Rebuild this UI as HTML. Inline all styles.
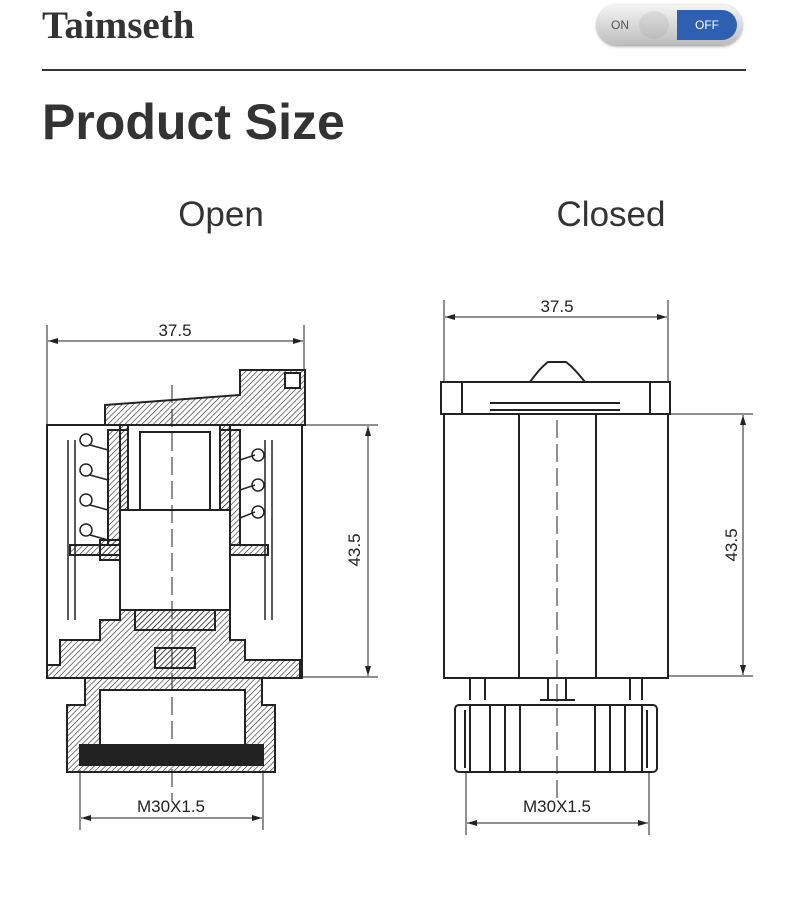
<!DOCTYPE html>
<html><head><meta charset="utf-8"><style>
body{margin:0;background:#fff;width:790px;height:913px;overflow:hidden;position:relative;font-family:"Liberation Sans",sans-serif}
.t{position:absolute;left:42px;top:3px;font-family:"Liberation Serif",serif;font-weight:bold;font-size:39px;color:#333}
.hr{position:absolute;left:42px;top:69px;width:704px;height:2px;background:#333}
.ps{position:absolute;left:42px;top:93px;font-weight:bold;font-size:50px;color:#333}
.sub{position:absolute;top:195px;font-size:35px;color:#333;width:200px;text-align:center}
.tog{position:absolute;left:597px;top:5px;width:145px;height:40px;border-radius:20px;background:linear-gradient(#f4f4f4,#bdbdbd);box-shadow:0 1px 3px #888}
.tog .on{position:absolute;left:14px;top:13px;font-size:12px;color:#555}
.tog .knob{position:absolute;left:42px;top:6px;width:30px;height:28px;border-radius:50%;background:linear-gradient(#ddd,#bbb)}
.tog .off{position:absolute;left:80px;top:5px;width:60px;height:30px;border-radius:0 15px 15px 0;background:#2f5fb0;color:#fff;font-size:12px;line-height:30px;text-align:center}
svg{position:absolute;left:0;top:0}
</style></head><body>
<div class="t">Taimseth</div>
<div class="tog"><span class="on">ON</span><div class="knob"></div><div class="off">OFF</div></div>
<div class="hr"></div>
<div class="ps">Product Size</div>
<div class="sub" style="left:121px">Open</div>
<div class="sub" style="left:511px">Closed</div>
<svg width="790" height="913" viewBox="0 0 790 913">
<defs>
<pattern id="h" width="4" height="4" patternUnits="userSpaceOnUse" patternTransform="rotate(45)"><line x1="0" y1="0" x2="0" y2="4" stroke="#222" stroke-width="1.2"/></pattern>
<marker id="a" markerWidth="10" markerHeight="6" refX="10" refY="3" orient="auto-start-reverse"><path d="M0,0L10,3L0,6z" fill="#222"/></marker>
</defs>
<g stroke="#222" fill="none" stroke-width="1" font-size="17" font-family="Liberation Sans,sans-serif">
<line x1="47" y1="325" x2="47" y2="425"/><line x1="304" y1="325" x2="304" y2="370"/>
<line x1="48" y1="341" x2="303" y2="341" marker-start="url(#a)" marker-end="url(#a)"/>
<text x="175" y="336" fill="#222" stroke="none" text-anchor="middle">37.5</text>
<line x1="302" y1="425" x2="378" y2="425"/><line x1="302" y1="677" x2="378" y2="677"/>
<line x1="368" y1="426" x2="368" y2="676" marker-start="url(#a)" marker-end="url(#a)"/>
<text x="0" y="0" fill="#222" stroke="none" text-anchor="middle" transform="translate(360,550) rotate(-90)">43.5</text>
<line x1="80" y1="770" x2="80" y2="830"/><line x1="263" y1="770" x2="263" y2="830"/>
<line x1="81" y1="818" x2="262" y2="818" marker-start="url(#a)" marker-end="url(#a)"/>
<text x="171" y="812" fill="#222" stroke="none" text-anchor="middle">M30X1.5</text>
<g stroke-width="2">
<rect x="47" y="425" width="255" height="253"/>
<path d="M105,405 L240,395 L240,370 L305,370 L305,425 L105,425z" fill="url(#h)"/>
<rect x="285" y="373" width="15" height="15" fill="#fff"/>
<path d="M108,425 L120,425 L120,540 L100,540 L100,560 L120,560 L120,620 L100,620 L100,640 L60,640 L60,665 L47,665 L47,678 L300,678 L300,660 L245,660 L245,640 L230,640 L230,425 L220,425 L220,545 L128,545 L128,425z" fill="url(#h)"/>
<path d="M220,430 L240,430 L240,545 L220,545z" fill="url(#h)"/>
<path d="M108,430 L128,430 L128,545 L108,545z" fill="url(#h)"/>
<path d="M85,678 L262,678 L262,705 L275,705 L275,772 L67,772 L67,705 L85,705z" fill="url(#h)"/>
<rect x="100" y="690" width="145" height="55" fill="#fff"/>
<rect x="80" y="745" width="183" height="20" fill="#222"/>
<rect x="140" y="432" width="70" height="78" fill="#fff"/>
<rect x="120" y="510" width="110" height="100" fill="#fff"/>
<path d="M135,610 L215,610 L215,630 L135,630z" fill="url(#h)"/>
<rect x="155" y="648" width="40" height="20" fill="url(#h)"/>
<path d="M70,545 L120,545 L120,555 L70,555z M230,545 L268,545 L268,555 L230,555z" fill="url(#h)"/>
</g>
<g stroke-width="1.5">
<path d="M68,440 L68,620 M75,440 L75,620 M272,440 L272,620 M265,440 L265,620"/>
<circle cx="86" cy="440" r="6"/><circle cx="86" cy="470" r="6"/><circle cx="86" cy="500" r="6"/><circle cx="86" cy="530" r="6"/>
<circle cx="258" cy="455" r="6"/><circle cx="258" cy="485" r="6"/><circle cx="258" cy="512" r="6"/>
<path d="M90,445 L108,450 M90,475 L108,480 M90,505 L108,510 M90,535 L108,540 M240,460 L255,455 M240,490 L255,485 M240,518 L255,512"/>
</g>
<line x1="172" y1="385" x2="172" y2="800" stroke-dasharray="18,6"/>
<line x1="444" y1="300" x2="444" y2="382"/><line x1="668" y1="300" x2="668" y2="382"/>
<line x1="445" y1="317" x2="667" y2="317" marker-start="url(#a)" marker-end="url(#a)"/>
<text x="557" y="312" fill="#222" stroke="none" text-anchor="middle">37.5</text>
<line x1="670" y1="414" x2="753" y2="414"/><line x1="668" y1="676" x2="753" y2="676"/>
<line x1="743" y1="415" x2="743" y2="675" marker-start="url(#a)" marker-end="url(#a)"/>
<text x="0" y="0" fill="#222" stroke="none" text-anchor="middle" transform="translate(737,545) rotate(-90)">43.5</text>
<line x1="466" y1="772" x2="466" y2="835"/><line x1="649" y1="772" x2="649" y2="835"/>
<line x1="467" y1="823" x2="648" y2="823" marker-start="url(#a)" marker-end="url(#a)"/>
<text x="557" y="812" fill="#222" stroke="none" text-anchor="middle">M30X1.5</text>
<g stroke-width="2">
<path d="M530,382 Q540,368 548,362 L566,362 Q574,368 585,382"/>
<rect x="441" y="382" width="229" height="32"/>
<path d="M462,382 L462,414 M650,382 L650,414 M490,403 L620,403 M490,410 L620,410"/>
<rect x="444" y="414" width="224" height="264"/>
<path d="M519,414 L519,678 M596,414 L596,678"/>
<path d="M470,678 L470,700 M485,678 L485,700 M630,678 L630,700 M642,678 L642,700 M548,678 L548,700 M566,678 L566,700 M540,700 L575,700"/>
<rect x="455" y="705" width="202" height="67" rx="4"/>
<path d="M470,705 L470,772 M490,705 L490,772 M505,705 L505,772 M520,705 L520,772 M595,705 L595,772 M610,705 L610,772 M625,705 L625,772 M642,705 L642,772 M465,710 L465,768 M647,710 L647,768"/>
</g>
<line x1="557" y1="420" x2="557" y2="800" stroke-dasharray="18,6"/>
</g>
</svg>
</body></html>
